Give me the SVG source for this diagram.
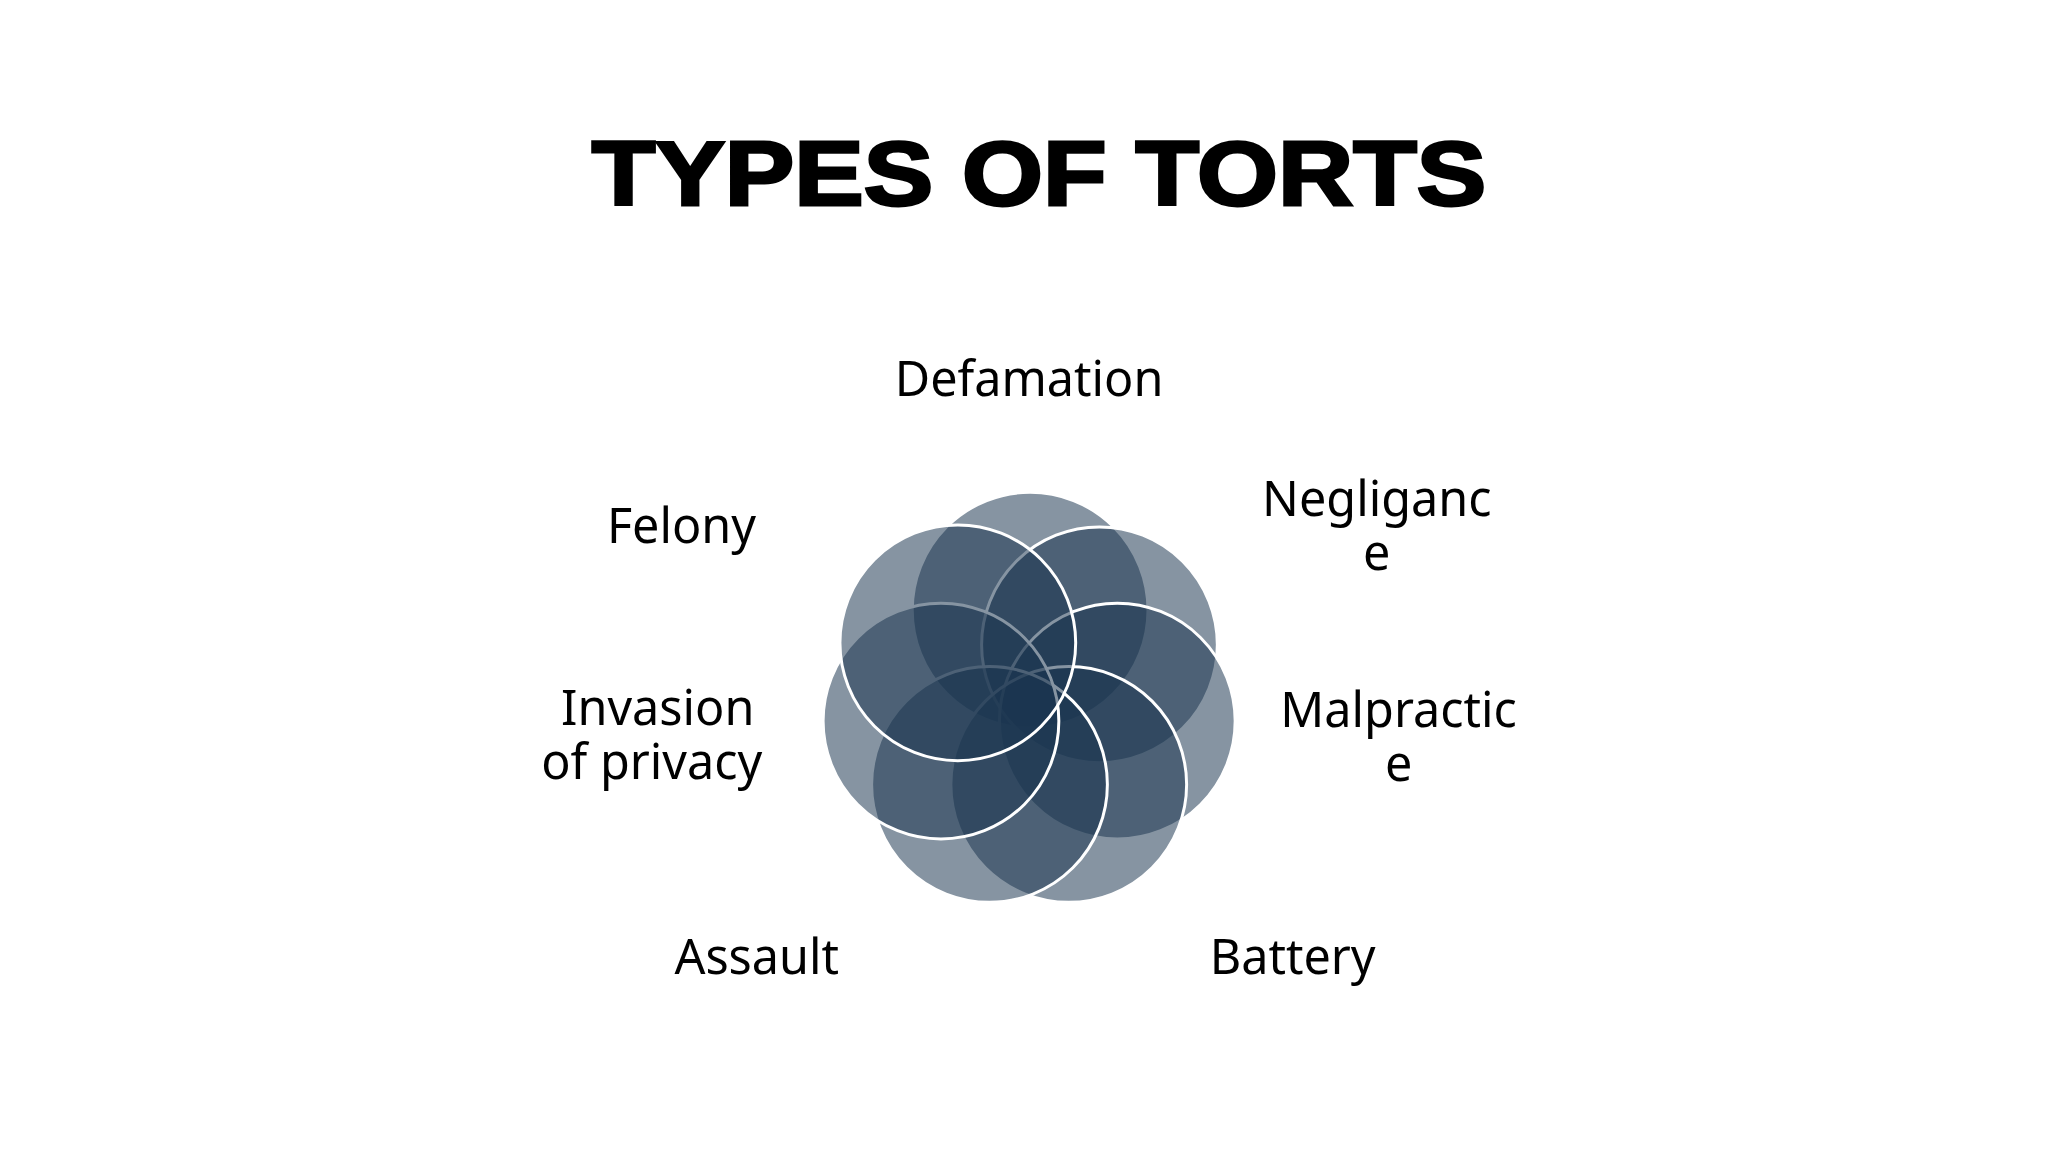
<svg xmlns="http://www.w3.org/2000/svg" width="2048" height="1152" viewBox="0 0 2048 1152">
<style>
.c{fill:#1b3450;fill-opacity:0.53;stroke:#ffffff;stroke-width:3}
.t{font-family:"Noto Sans","Open Sans",sans-serif;font-size:49px;fill:#000;text-anchor:middle}
</style>
<rect width="2048" height="1152" fill="#fff"/>
<g transform="scale(0.9905)">
<text x="1049" y="207" font-family="Liberation Sans,Arial,sans-serif" font-weight="900" font-size="92" text-anchor="middle" textLength="903" lengthAdjust="spacingAndGlyphs" stroke="#000" stroke-width="3">TYPES OF TORTS</text>
<g id="circles">
<circle id="n1" class="c" cx="1040" cy="616" r="119"/>
<circle id="n2" class="c" cx="1110" cy="651" r="119"/>
<circle id="n3" class="c" cx="1128" cy="728" r="119"/>
<circle id="n4" class="c" cx="1079" cy="792" r="119"/>
<circle id="n5" class="c" cx="999" cy="792" r="119"/>
<circle id="n6" class="c" cx="950" cy="728" r="119"/>
<circle id="n7" class="c" cx="967" cy="649" r="119"/>
</g>
<g id="labels">
<text class="t" x="1039" y="400">Defamation</text>
<text class="t" x="1390" y="521">Negliganc</text>
<text class="t" x="1390" y="575">e</text>
<text class="t" x="1412" y="734">Malpractic</text>
<text class="t" x="1412" y="788">e</text>
<text class="t" x="1305" y="983">Battery</text>
<text class="t" x="764" y="983">Assault</text>
<text class="t" x="664" y="732">Invasion</text>
<text class="t" x="658" y="786">of privacy</text>
<text class="t" x="688" y="548">Felony</text>
</g>
</g>
</svg>
